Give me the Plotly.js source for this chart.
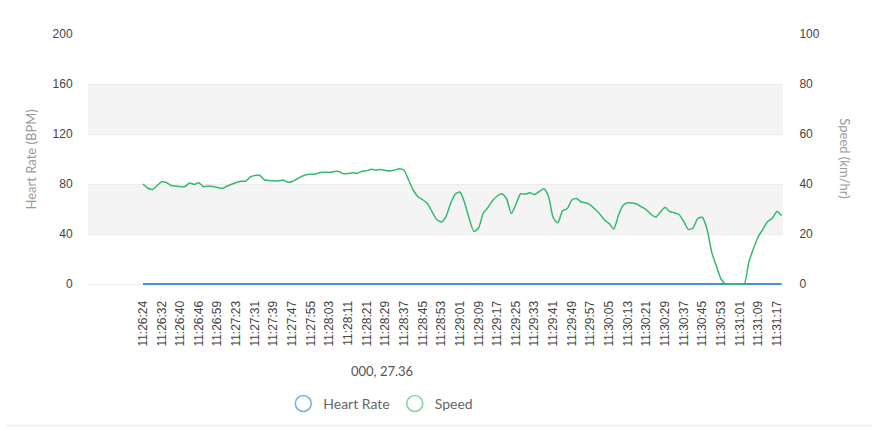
<!DOCTYPE html>
<html>
<head>
<meta charset="utf-8">
<script src="https://cdn.plot.ly/plotly-3.0.1.min.js"></script>
<style>html,body{margin:0;padding:0;background:#fff;}#chart{width:878px;height:431px;}</style>
</head>
<body>
<div id="chart"></div>
<script>
var times = [
"11:26:24","11:26:26","11:26:28","11:26:30","11:26:32","11:26:34","11:26:36","11:26:38",
"11:26:40","11:26:41","11:26:43","11:26:45","11:26:46","11:26:49","11:26:52","11:26:56",
"11:26:59","11:27:05","11:27:11","11:27:17","11:27:23","11:27:25","11:27:27","11:27:29",
"11:27:31","11:27:33","11:27:35","11:27:37","11:27:39","11:27:41","11:27:43","11:27:45",
"11:27:47","11:27:49","11:27:51","11:27:53","11:27:55","11:27:57","11:27:59","11:28:01",
"11:28:03","11:28:05","11:28:07","11:28:09","11:28:11","11:28:13","11:28:16","11:28:18",
"11:28:21","11:28:23","11:28:25","11:28:27","11:28:29","11:28:31","11:28:33","11:28:35",
"11:28:37","11:28:39","11:28:41","11:28:43","11:28:45","11:28:47","11:28:49","11:28:51",
"11:28:53","11:28:55","11:28:57","11:28:59","11:29:01","11:29:03","11:29:05","11:29:07",
"11:29:09","11:29:11","11:29:13","11:29:15","11:29:17","11:29:19","11:29:21","11:29:23",
"11:29:25","11:29:27","11:29:29","11:29:31","11:29:33","11:29:35","11:29:37","11:29:39",
"11:29:41","11:29:43","11:29:45","11:29:47","11:29:49","11:29:51","11:29:53","11:29:55",
"11:29:57","11:29:59","11:30:01","11:30:03","11:30:05","11:30:07","11:30:09","11:30:11",
"11:30:13","11:30:15","11:30:17","11:30:19","11:30:21","11:30:23","11:30:25","11:30:27",
"11:30:29","11:30:31","11:30:33","11:30:35","11:30:37","11:30:39","11:30:41","11:30:43",
"11:30:45","11:30:47","11:30:49","11:30:51","11:30:53","11:30:55","11:30:57","11:30:59",
"11:31:01","11:31:03","11:31:05","11:31:07","11:31:09","11:31:11","11:31:13","11:31:15",
"11:31:17","11:31:19"
];

var tickLabels = [
"11:26:24","11:26:32","11:26:40","11:26:46","11:26:59","11:27:23","11:27:31","11:27:39",
"11:27:47","11:27:55","11:28:03","11:28:11","11:28:21","11:28:29","11:28:37","11:28:45",
"11:28:53","11:29:01","11:29:09","11:29:17","11:29:25","11:29:33","11:29:41","11:29:49",
"11:29:57","11:30:05","11:30:13","11:30:21","11:30:29","11:30:37","11:30:45","11:30:53",
"11:31:01","11:31:09","11:31:17"
];

var speed = [
40.0,38.4,37.8,39.3,40.9,40.6,39.4,39.2,38.9,39.0,40.4,39.8,40.5,38.9,39.2,39.0,
38.6,38.2,39.1,39.9,40.6,41.1,41.1,42.8,43.4,43.5,41.7,41.4,41.3,41.2,41.6,40.7,
41.0,42.0,43.0,43.7,43.9,44.0,44.6,44.7,44.6,45.0,45.0,44.1,44.2,44.5,44.3,45.1,
45.3,45.9,45.6,45.8,45.4,45.2,45.6,46.1,45.5,41.5,37.5,34.9,33.7,32.2,29.0,25.8,
24.8,27.0,32.3,36.0,36.8,32.5,26.0,21.0,22.5,28.4,30.6,33.4,35.2,36.1,34.1,28.2,
31.8,36.1,35.9,36.5,35.8,37.0,38.1,35.0,26.5,24.5,29.3,30.1,33.6,34.2,32.8,32.5,
31.6,29.9,28.0,25.6,24.2,22.0,27.5,31.5,32.5,32.4,31.9,30.8,29.7,27.8,26.8,28.8,
30.7,29.0,28.5,27.8,25.0,21.8,22.4,26.2,26.7,21.9,12.8,7.2,2.0,0,0,0,
0,0,9.0,14.3,19.0,21.9,25.0,26.3,29.0,27.36
];

var heartRate = [
0,0,0,0,0,0,0,0,0,0,0,0,0,0,0,0,0,0,0,0,0,0,0,0,0,0,0,0,0,0,0,0,
0,0,0,0,0,0,0,0,0,0,0,0,0,0,0,0,0,0,0,0,0,0,0,0,0,0,0,0,0,0,0,0,
0,0,0,0,0,0,0,0,0,0,0,0,0,0,0,0,0,0,0,0,0,0,0,0,0,0,0,0,0,0,0,0,
0,0,0,0,0,0,0,0,0,0,0,0,0,0,0,0,0,0,0,0,0,0,0,0,0,0,0,0,0,0,0,0,
0,0,0,0,0,0,0,0,0,0
];

var hrTicks = [0, 40, 80, 120, 160, 200];
var speedTicks = [0, 20, 40, 60, 80, 100];
var bandRanges = [[40, 80], [120, 160]];
var captionText = "000, 27.36";

var blue = "#4a90d6";
var green = "#36b86e";
var titleFont = "Lato, 'Open Sans', sans-serif";
var tickFont = "'Liberation Sans', Arial, sans-serif";

var traces = [
  {x: times, y: heartRate, type: "scatter", mode: "lines", name: "Heart Rate",
   line: {color: blue, width: 2}, showlegend: false, yaxis: "y", hoverinfo: "skip"},
  {x: times, y: speed, type: "scatter", mode: "lines", name: "Speed",
   line: {color: green, width: 1.5, shape: "spline", smoothing: 0.6}, showlegend: false, yaxis: "y2", hoverinfo: "skip"},
  {x: [null], y: [null], type: "scatter", mode: "markers", name: "Heart Rate",
   marker: {symbol: "circle-open", size: 16, color: "#7fb0e0", line: {width: 1.6}}},
  {x: [null], y: [null], type: "scatter", mode: "markers", name: "Speed",
   marker: {symbol: "circle-open", size: 16, color: "#86d6a6", line: {width: 1.6}}}
];

var shapes = bandRanges.map(function (b) {
  return {type: "rect", xref: "paper", yref: "y", x0: 0, x1: 1, y0: b[0], y1: b[1],
          fillcolor: "#f4f4f4", line: {width: 0}, layer: "below"};
});
shapes.push({type: "line", xref: "paper", yref: "paper", x0: -0.118, x1: 1.128,
             y0: -0.555, y1: -0.555, line: {color: "#f0f0f0", width: 2}});

var layout = {
  width: 878, height: 431,
  margin: {l: 88, r: 95, t: 34, b: 144, pad: 0},
  paper_bgcolor: "#ffffff", plot_bgcolor: "#ffffff",
  showlegend: true,
  legend: {orientation: "h", x: 0.281, xanchor: "left", y: -0.462, yanchor: "middle",
           font: {family: titleFont, size: 14, color: "#666"}, bgcolor: "rgba(0,0,0,0)"},
  xaxis: {type: "category", range: [-11.8, 137.3], tickmode: "array",
          tickvals: tickLabels, ticktext: tickLabels, tickangle: -90,
          showgrid: false, zeroline: false, showline: false,
          ticks: "outside", ticklen: 9, tickcolor: "rgba(0,0,0,0)",
          tickfont: {family: tickFont, size: 12, color: "#444"}},
  yaxis: {range: [-1.594, 200], tickmode: "array", tickvals: hrTicks,
          showgrid: true, gridcolor: "#ebebeb", gridwidth: 1, zeroline: false, showline: false,
          ticks: "outside", ticklen: 12, tickcolor: "rgba(0,0,0,0)",
          tickfont: {family: tickFont, size: 12, color: "#444"}},
  yaxis2: {range: [-0.797, 100], overlaying: "y", side: "right", tickmode: "array",
           tickvals: speedTicks, showgrid: false, zeroline: false, showline: false,
           ticks: "outside", ticklen: 13, tickcolor: "rgba(0,0,0,0)",
           tickfont: {family: tickFont, size: 12, color: "#444"}},
  shapes: shapes,
  annotations: [
    {text: "Heart Rate (BPM)", xref: "paper", yref: "paper", x: -0.082, y: 0.502,
     xanchor: "center", yanchor: "middle", textangle: -90, showarrow: false,
     font: {family: titleFont, size: 13, color: "#999"}},
    {text: "Speed (km/hr)", xref: "paper", yref: "paper", x: 1.088, y: 0.506,
     xanchor: "center", yanchor: "middle", textangle: 90, showarrow: false,
     font: {family: titleFont, size: 13, color: "#999"}},
    {text: captionText, xref: "paper", yref: "paper", x: 0.423, y: -0.338,
     xanchor: "center", yanchor: "middle", showarrow: false,
     font: {family: titleFont, size: 13, color: "#555"}}
  ]
};

Plotly.newPlot("chart", traces, layout, {displayModeBar: false, staticPlot: true});
</script>
</body>
</html>
